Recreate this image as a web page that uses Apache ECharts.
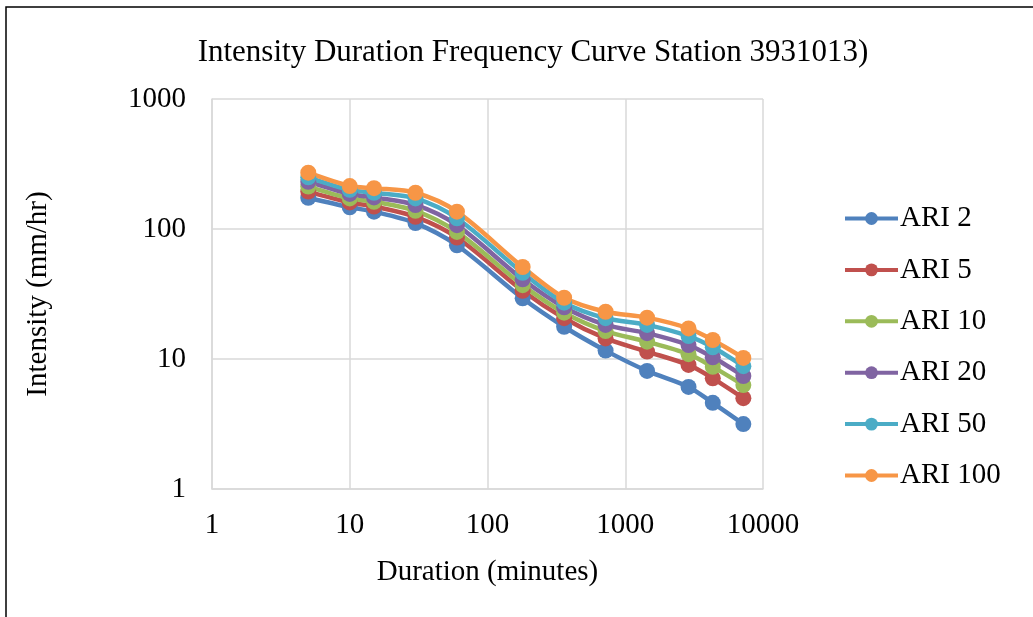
<!DOCTYPE html>
<html>
<head>
<meta charset="utf-8">
<script src="https://cdn.jsdelivr.net/npm/echarts@6/dist/echarts.min.js"></script>
<style>
html,body{margin:0;padding:0;background:#fff;}
#chart{width:1033px;height:617px;}
</style>
</head>
<body>
<div id="chart"></div>
<script>
const durations = [5, 10, 15, 30, 60, 180, 360, 720, 1440, 2880, 4320, 7200];
const seriesNames = ['ARI 2', 'ARI 5', 'ARI 10', 'ARI 20', 'ARI 50', 'ARI 100'];
const ari2   = [174, 147, 136, 111, 75, 29.3, 17.7, 11.6, 8.1, 6.1, 4.6, 3.16];
const ari5   = [194, 160, 149, 124, 86, 33.5, 20.6, 14.4, 11.4, 9.0, 7.1, 5.0];
const ari10  = [212, 172, 162, 138, 95, 37, 22.7, 16.4, 13.6, 10.9, 8.7, 6.3];
const ari20  = [231, 186, 175, 153, 107, 41, 25, 18.3, 15.8, 12.8, 10.3, 7.4];
const ari50  = [250, 200, 190, 172, 121, 46, 27.1, 20.6, 18.3, 15.0, 12.3, 8.8];
const ari100 = [271, 214, 206, 190, 136, 51, 29.6, 23.1, 20.8, 17.2, 14.0, 10.2];
const colors = ['#4F81BD', '#C0504D', '#9BBB59', '#8064A2', '#4BACC6', '#F79646'];
const allValues = [ari2, ari5, ari10, ari20, ari50, ari100];

const font = '"Liberation Serif", "Times New Roman", serif';
const fs = 29;
const chart = echarts.init(document.getElementById('chart'));
chart.setOption({
  animation: false,
  color: colors,
  textStyle: {fontFamily: font, color: '#000'},
  title: {
    text: 'Intensity Duration Frequency Curve Station 3931013)',
    left: 528, top: 32, textAlign: 'center',
    textStyle: {fontFamily: font, fontSize: 31, fontWeight: 'normal', color: '#000'}
  },
  legend: {
    orient: 'vertical',
    left: 838, top: 199,
    itemWidth: 53, itemHeight: 16, itemGap: 22.4,
    lineStyle: {width: 4},
    textStyle: {fontFamily: font, fontSize: fs, color: '#000', padding: [0,0,0,-3]},
    data: seriesNames
  },
  grid: {left: 212, right: 270, top: 99, bottom: 128, containLabel: false},
  xAxis: {
    type: 'log', logBase: 10, min: 1, max: 10000,
    name: 'Duration (minutes)', nameLocation: 'middle', nameGap: 69,
    nameTextStyle: {fontFamily: font, fontSize: fs, color: '#000'},
    axisLine: {show: true, lineStyle: {color: '#d9d9d9', width: 1.5}},
    axisTick: {show: false},
    axisLabel: {fontFamily: font, fontSize: fs, color: '#000', margin: 22,
      formatter: v => String(Math.round(v))},
    splitLine: {show: true, lineStyle: {color: '#d9d9d9', width: 1.5}},
    minorTick: {show: false}, minorSplitLine: {show: false}
  },
  yAxis: {
    type: 'log', logBase: 10, min: 1, max: 1000,
    name: 'Intensity (mm/hr)', nameLocation: 'middle', nameGap: 159,
    nameTextStyle: {fontFamily: font, fontSize: fs, color: '#000'},
    axisLine: {show: true, lineStyle: {color: '#d9d9d9', width: 1.5}},
    axisTick: {show: false},
    axisLabel: {fontFamily: font, fontSize: fs, color: '#000', margin: 26,
      formatter: v => String(Math.round(v))},
    splitLine: {show: true, lineStyle: {color: '#d9d9d9', width: 1.5}}
  },
  graphic: [{
    type: 'polyline', silent: true,
    shape: {points: [[6, 640], [6, 7], [1040, 7]]},
    style: {stroke: '#000', lineWidth: 1.5, fill: null}
  }],
  series: seriesNames.map((n, i) => ({
    name: n, type: 'line', smooth: 0.3,
    data: durations.map((d, j) => [d, allValues[i][j]]),
    symbol: 'circle', symbolSize: 16,
    lineStyle: {width: 4.5, color: colors[i]},
    itemStyle: {color: colors[i]}
  }))
});
</script>
</body>
</html>
